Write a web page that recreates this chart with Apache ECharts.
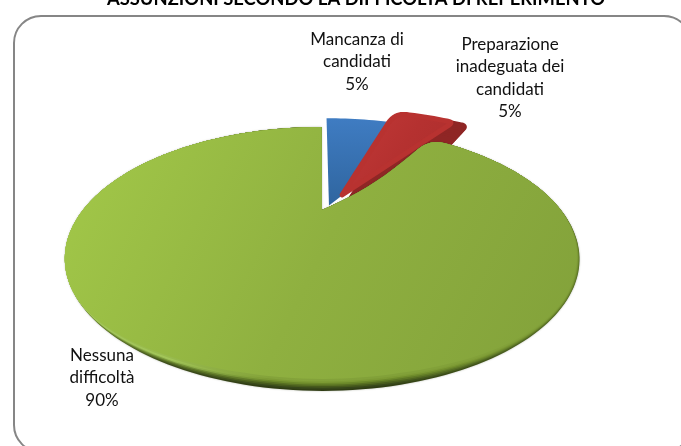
<!DOCTYPE html>
<html>
<head>
<meta charset="utf-8">
<style>html,body{margin:0;padding:0;background:#fff}#main{width:681px;height:446px}</style>
<script src="https://cdn.jsdelivr.net/npm/echarts@6/dist/echarts.min.js"></script>
</head>
<body>
<div id="main"></div>
<script>
const titleText = 'ASSUNZIONI SECONDO LA DIFFICOLTÀ DI REPERIMENTO';
const categories = ['Mancanza di\ncandidati', 'Preparazione\ninadeguata dei\ncandidati', 'Nessuna\ndifficoltà'];
const shares = [5, 5, 90];

// Perspective of the tilted disc: disc (u, v) maps to the screen through these.
const disc = { x0: 320.5, y0: 210, R: 239, H: 113.8, k: 0.371 };
const project = (u, v) => {
  const w = 1 + disc.k * v;
  return [disc.x0 + disc.R * u / w, disc.y0 - disc.H * v / w];
};

// Placement of each slice on the disc and of its label on the page.
const looks = [
  { ox: 0.036, oy: 0.04, r: 1.11, labelX: 357, labelY: 28 },
  { ox: 0.095, oy: 0.14, r: 1.16, labelX: 510, labelY: 33 },
  { ox: 0.006, oy: 0, r: 1, labelX: 102, labelY: 344 }
];

function arcPoints(look, a0, a1) {
  const pts = [];
  const n = Math.max(4, Math.ceil(Math.abs(a1 - a0) / 1.5));
  for (let i = 0; i <= n; i++) {
    const a = (a0 + (a1 - a0) * i / n) * Math.PI / 180;
    pts.push(project(look.ox + look.r * Math.sin(a), look.oy + look.r * Math.cos(a)));
  }
  return pts;
}

// Replaces the sharp corner at pts[at] by a quadratic curve reaching d pixels along each side.
function roundCorner(pts, at, d) {
  const walk = (step) => {
    let left = d, i = at;
    while (pts[i + step]) {
      const a = pts[i], b = pts[i + step];
      const len = Math.hypot(b[0] - a[0], b[1] - a[1]);
      if (len >= left) {
        const t = left / len;
        return { i: i + step, p: [a[0] + (b[0] - a[0]) * t, a[1] + (b[1] - a[1]) * t] };
      }
      left -= len;
      i += step;
    }
    return { i: i, p: pts[i] };
  };
  const A = walk(-1), B = walk(1), C = pts[at], curve = [];
  for (let s = 0; s <= 12; s++) {
    const t = s / 12, m = 1 - t;
    curve.push([m * m * A.p[0] + 2 * m * t * C[0] + t * t * B.p[0],
                m * m * A.p[1] + 2 * m * t * C[1] + t * t * B.p[1]]);
  }
  return pts.slice(0, A.i + 1).concat(curve, pts.slice(B.i));
}

// Slice outline, with rounded outer corners and an optionally bowed leading edge.
function sliceOutline(look, a0, a1, bevel, sag) {
  const apex = project(look.ox, look.oy);
  const arc = arcPoints(look, a0, a1);
  const lead = [];
  for (let i = 0; i < 12; i++) {
    const t = i / 12, p = arc[0];
    const bow = sag * Math.sin(Math.PI * t);
    lead.push([apex[0] + (p[0] - apex[0]) * t, apex[1] + (p[1] - apex[1]) * t + bow]);
  }
  let pts = lead.concat(arc);
  pts = roundCorner(pts, lead.length, bevel[0]);
  if (bevel[1]) {
    pts.push(apex);
    pts = roundCorner(pts, pts.length - 2, bevel[1]);
  }
  return pts;
}

const gradient = (x2, y2, stops) => new echarts.graphic.LinearGradient(0, 0, x2, y2,
  stops.map((c, i) => ({ offset: i / (stops.length - 1), color: c })));

// Pulls the near side of the big slice inward, forming the lit bevel along its rim.
const clamp01 = (t) => Math.min(1, Math.max(0, t));
function inset(pts, d) {
  return pts.map(([x, y]) => {
    const f = Math.pow(clamp01((y - 285) / 100), 1.4);
    const side = clamp01((x - 490) / 85) * clamp01((y - 200) / 70);
    return [x - d * 0.3 * side, y - d * f];
  });
}

function drawGreen(a0, a1, look) {
  const base = sliceOutline(look, a0, a1, [16, 0], 7);
  // Bevel bands from the outer edge inward, each shaded left to right.
  const rim = [
    ['#7f9f38', '#4c6020', '#36461a', '#36461a', '#4d6320', '#607a28'],
    ['#92b447', '#5e7826', '#465a1c', '#465a1c', '#5c7526', '#6b872c'],
    ['#a8cb5c', '#78963a', '#587022', '#587022', '#6a862b', '#748f30'],
    ['#a9cc5f', '#9cbf55', '#6b8829', '#6b8829', '#76932f', '#7a9733'],
    ['#a5c85a', '#a3c659', '#7c9a33', '#7c9a33', '#7f9d36', '#7f9d38'],
    ['#9fc151', '#98ba4e', '#84a33a', '#82a139', '#82a139', '#82a13a']
  ];
  const kids = [{
    type: 'polygon', shape: { points: base },
    style: { fill: gradient(1, 0, ['#6e8a30', '#3c4c1a', '#2f3c14', '#2f3c14', '#3f5218', '#586f26']),
      shadowBlur: 2, shadowColor: 'rgba(40,50,15,0.35)' }
  }];
  rim.forEach((colors, i) => {
    kids.push({ type: 'polygon', shape: { points: inset(base, 1.6 * (i + 1)) },
      style: { fill: gradient(1, 0, colors) } });
  });
  kids.push({
    type: 'polygon', shape: { points: inset(base, 12) },
    style: { fill: gradient(1, 1, ['#a3c949', '#8fb040', '#82a13a']) }
  });
  return kids;
}

// The blue slice runs on beneath the red one, which covers its far side.
function drawBlue(a0, a1, look) {
  const apex = project(look.ox, look.oy);
  return [{
    type: 'polygon', shape: { points: [apex].concat(arcPoints(look, a0, a1 + 14)) },
    style: { fill: gradient(0, 1, ['#3f7cc2', '#2f659f']) }
  }];
}

function drawRed(a0, a1, look) {
  const face = sliceOutline(look, a0, a1, [12, 5], 0);
  const kids = [];
  // The slice's thick side: the face swept straight down, then down and to the right.
  for (let s = 0; s <= 8; s++) {
    const dx = 13 - 13 * s / 8, dy = 4 + 14 * s / 8;
    kids.push({ type: 'polygon', shape: { points: face.map(([x, y]) => [x + dx, y + dy]) },
      style: { fill: '#8f2625', stroke: '#8f2625', lineWidth: 6, lineJoin: 'round' } });
  }
  kids.push({ type: 'polygon', shape: { points: face },
    style: { fill: gradient(1, 1, ['#c33a38', '#b53130', '#aa2d2c']),
      stroke: '#b83230', lineWidth: 5, lineJoin: 'round' } });
  return kids;
}

const painters = [drawBlue, drawRed, drawGreen];

const chart = echarts.init(document.getElementById('main'), null, { renderer: 'canvas' });
chart.setOption({
  animation: false,
  backgroundColor: '#ffffff',
  title: {
    text: titleText, left: 351, top: -15, textAlign: 'center',
    textStyle: { fontFamily: 'Lato', fontWeight: 'bold', fontSize: 18.4, color: '#000' }
  },
  graphic: [{
    type: 'rect', left: 13, top: 15, z: -1,
    shape: { width: 677, height: 436, r: 27 },
    style: { fill: '#fff', stroke: '#868686', lineWidth: 2 }
  }],
  series: [{
    type: 'custom',
    coordinateSystem: 'none',
    data: categories.map((name, i) => ({ name, value: shares[i] })),
    renderItem(params, api) {
      const i = params.dataIndex;
      const total = shares.reduce((a, b) => a + b, 0);
      const before = shares.slice(0, i).reduce((a, b) => a + b, 0);
      const a0 = before / total * 360;
      const a1 = a0 + api.value(0) / total * 360;
      const look = looks[i];
      const kids = painters[i](a0, a1, look);
      kids.push({
        type: 'text', z2: 50,
        style: {
          x: look.labelX, y: look.labelY,
          text: categories[i] + '\n' + api.value(0) + '%',
          align: 'center', verticalAlign: 'top',
          font: '17px Lato', lineHeight: 22.5, fill: '#111'
        }
      });
      return { type: 'group', children: kids };
    }
  }]
});
</script>
</body>
</html>
